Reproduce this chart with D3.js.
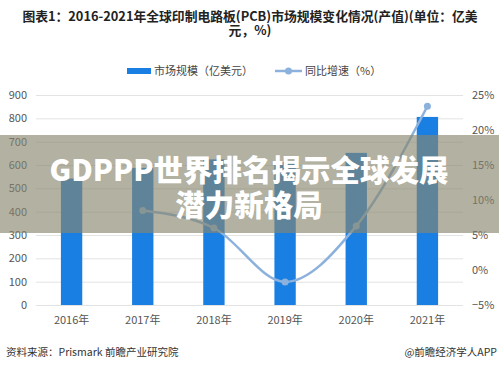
<!DOCTYPE html>
<html><head><meta charset="utf-8">
<script src="https://cdn.jsdelivr.net/npm/d3@7/dist/d3.min.js"></script>
<style>body{margin:0;background:#fff}svg{display:block}</style>
</head><body>
<svg id="c" width="499" height="368"></svg>
<script>
const years = ["2016年","2017年","2018年","2019年","2020年","2021年"];
const marketSize = [542, 588, 624, 613, 652, 806];
const growth = [null, 8.5, 6.0, -1.7, 6.3, 23.4];
const leftTicks = [0,100,200,300,400,500,600,700,800,900];
const rightTicks = [-5,0,5,10,15,20,25];
const titleLines = ["图表1：2016-2021年全球印制电路板(PCB)市场规模变化情况(产值)(单位：亿美","元，%)"];
const legendLabels = ["市场规模（亿美元）","同比增速（%）"];
const overlayLines = ["GDPPP世界排名揭示全球发展","潜力新格局"];
const sourceText = "资料来源：Prismark 前瞻产业研究院";
const brandText = "@前瞻经济学人APP";

const svg = d3.select("#c");
const F = "'Noto Sans CJK SC','Noto Sans',sans-serif";
const barColor = "#1a7fe2", lineColor = "#8cb1dc";
const L = 36, R = 463, T = 95, B = 305;

const x = d3.scaleBand().domain(years).range([L, R]).paddingInner(0.7).paddingOuter(0.35);
const yL = d3.scaleLinear().domain([0, 900]).range([B, T]);
const yR = d3.scaleLinear().domain([-5, 25]).range([B, T]);

// title
svg.append("g").selectAll("text").data(titleLines).join("text")
  .attr("x", 250).attr("y", (d,i)=>21+i*13.5).attr("text-anchor","middle")
  .attr("font-family", F).attr("font-weight","bold").attr("font-size", 12.8).attr("fill","#222")
  .text(d=>d);

// grid
svg.append("g").selectAll("line").data(leftTicks).join("line")
  .attr("x1", L).attr("x2", R).attr("y1", d=>yL(d)+0.5).attr("y2", d=>yL(d)+0.5)
  .attr("stroke", "#e3e3e3").attr("stroke-width",1);

// left axis
const la = svg.append("g").attr("transform",`translate(${L},0)`).call(d3.axisLeft(yL).tickValues(leftTicks).tickSize(0).tickPadding(9));
la.select(".domain").remove();
la.selectAll("text").attr("font-family", F).attr("font-size", 11).attr("fill","#555");

// right axis
const ra = svg.append("g").attr("transform",`translate(${R},0)`).call(d3.axisRight(yR).tickValues(rightTicks).tickSize(0).tickPadding(9).tickFormat(d=>(d<0?"−"+(-d):d)+"%"));
ra.select(".domain").remove();
ra.selectAll("text").attr("font-family", F).attr("font-size", 11).attr("fill","#555");

// x axis
const xa = svg.append("g").attr("transform",`translate(0,${B})`).call(d3.axisBottom(x).tickSize(0).tickPadding(11));
xa.select(".domain").remove();
xa.selectAll("text").attr("font-family", F).attr("font-size", 11).attr("fill","#555");

// bars
svg.append("g").selectAll("rect").data(marketSize).join("rect")
  .attr("x", (d,i)=>x(years[i])).attr("width", x.bandwidth())
  .attr("y", d=>yL(d)).attr("height", d=>B-yL(d)).attr("fill", barColor);

// line
const pts = growth.map((g,i)=>({g, yr: years[i]})).filter(p=>p.g!==null);
const line = d3.line().x(p=>x(p.yr)+x.bandwidth()/2).y(p=>yR(p.g)).curve(d3.curveMonotoneX);
svg.append("path").datum(pts).attr("d", line).attr("fill","none").attr("stroke", lineColor).attr("stroke-width", 2.5);
svg.append("g").selectAll("circle").data(pts).join("circle")
  .attr("cx", p=>x(p.yr)+x.bandwidth()/2).attr("cy", p=>yR(p.g)).attr("r", 3.5).attr("fill", lineColor);

// legend
const lg = svg.append("g");
lg.append("rect").attr("x",127).attr("y",68).attr("width",24).attr("height",6).attr("fill",barColor);
lg.append("text").attr("x",154).attr("y",75).attr("font-family",F).attr("font-size",11).attr("fill","#444").text(legendLabels[0]);
lg.append("line").attr("x1",275).attr("x2",302).attr("y1",71).attr("y2",71).attr("stroke",lineColor).attr("stroke-width",2.5);
lg.append("circle").attr("cx",288.5).attr("cy",71).attr("r",3.5).attr("fill",lineColor);
lg.append("text").attr("x",305).attr("y",75).attr("font-family",F).attr("font-size",11).attr("fill","#444").text(legendLabels[1]);

// footer
svg.append("text").attr("x",6).attr("y",356).attr("font-family",F).attr("font-size",10.5).attr("fill","#333").text(sourceText);
svg.append("text").attr("x",497).attr("y",356).attr("text-anchor","end").attr("font-family",F).attr("font-size",10.5).attr("fill","#333").text(brandText);

// overlay band
svg.append("rect").attr("x",0).attr("y",135).attr("width",499).attr("height",98).attr("fill","rgba(135,133,110,0.64)");
svg.append("g").selectAll("text").data(overlayLines).join("text")
  .attr("x", 249).attr("y",(d,i)=>181+i*35).attr("text-anchor","middle")
  .attr("font-family", F).attr("font-weight","900").attr("font-size", 29.5).attr("fill","#fff")
  .text(d=>d);
</script>
</body></html>
